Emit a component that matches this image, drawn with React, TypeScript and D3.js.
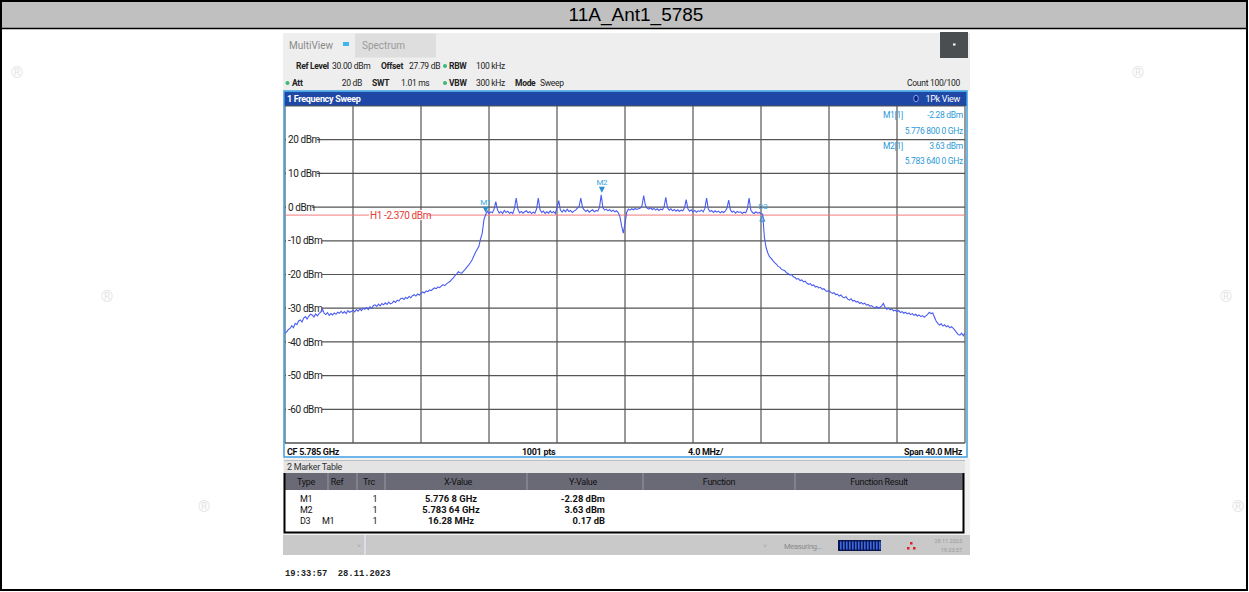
import React from 'react';
import * as d3 from 'd3';

const chartTitle = '11A_Ant1_5785';
const sweepStartMHz = 5765;
const sweepStopMHz = 5805;
const sweepStepMHz = 0.1;
const refLevelDbm = 30;
const bottomLevelDbm = -70;
const yGridLevels = [30, 20, 10, 0, -10, -20, -30, -40, -50, -60, -70];
const yTickLevels = [20, 10, 0, -10, -20, -30, -40, -50, -60];
const xGridMHz = [5765, 5769, 5773, 5777, 5781, 5785, 5789, 5793, 5797, 5801, 5805];
const h1LevelDbm = -2.37;

// trace samples, 0.1 MHz apart from 5765 MHz
const traceDbm = [
  -37.4, -37.0, -36.3, -36.0, -35.2, -35.8, -34.5, -34.9, -33.8, -33.5,
  -34.1, -32.9, -32.5, -33.2, -32.4, -31.8, -32.0, -32.6, -31.7, -32.3,
  -31.6, -31.2, -30.2, -31.5, -31.9, -31.3, -32.1, -31.6, -32.0, -31.4,
  -31.8, -31.2, -31.5, -30.9, -31.5, -31.0, -31.6, -30.7, -31.2, -31.0,
  -30.6, -31.1, -30.4, -30.9, -30.2, -30.7, -30.0, -30.3, -29.8, -30.4,
  -29.6, -30.0, -29.2, -29.0, -29.5, -28.8, -29.3, -28.6, -29.0, -28.4,
  -28.9, -28.2, -28.7, -28.5, -27.9, -28.3, -27.6, -27.9, -27.2, -27.0,
  -27.4, -26.8, -27.1, -26.5, -26.9, -26.3, -26.0, -26.4, -25.8, -26.1,
  -25.6, -25.2, -25.5, -24.9, -25.1, -24.6, -24.8, -24.3, -24.0, -24.2,
  -23.7, -23.9, -23.4, -23.0, -23.3, -22.8, -22.4, -22.1, -21.5, -21.0,
  -20.3, -19.8, -19.2, -19.5, -19.6, -19.0, -18.5, -17.8, -17.2, -16.5,
  -15.7, -14.6, -13.5, -12.6, -11.7, -9.5, -7.8, -3.8, -2.28, -1.2,
  -1.9, -1.4, -1.7, -0.6, 1.6, -0.8, -1.8, -1.3, -1.9, -1.0,
  -1.6, -1.2, -1.8, -1.5, -1.9, -0.4, 2.7, -0.6, -1.7, -1.3,
  -1.8, -1.4, -1.1, -1.7, -1.3, -1.9, -1.5, -1.8, -0.5, 2.7,
  -0.7, -1.6, -1.2, -1.9, -1.4, -1.8, -1.1, -1.7, -1.3, -1.9,
  -0.2, 1.9, -0.9, -1.5, -0.8, -1.4, -0.6, -1.3, -1.0, -1.6,
  -1.2, -0.9, -0.3, 0.2, 2.7, -0.1, -0.8, -1.3, -0.9, -1.5,
  -1.1, -0.8, -1.4, -1.0, -1.2, -0.1, 3.63, -0.2, -0.9, -0.6,
  -1.1, -0.7, -1.3, -0.9, -1.4, -1.1, -1.6, -2.8, -5.6, -7.7,
  -4.9, -1.5, -0.6, -0.9, -0.5, -0.8, -0.4, -0.7, -0.5, -0.3,
  0.4, 3.4, 0.5, -0.3, -0.6, -0.2, -0.7, -0.4, -0.9, -0.5,
  -1.0, -0.6, -0.8, 0.1, 2.9, -0.2, -0.9, -0.5, -1.1, -0.7,
  -1.2, -0.8, -1.3, -0.9, -1.1, -0.2, 2.2, -0.5, -1.2, -0.8,
  -1.4, -1.0, -1.5, -1.1, -1.3, -0.9, -1.4, -0.4, 2.7, -0.6,
  -1.3, -1.0, -1.6, -1.1, -1.5, -1.2, -1.7, -1.3, -1.6, -1.2,
  -0.3, 2.1, -0.8, -1.5, -1.2, -1.8, -1.3, -1.6, -1.4, -1.9,
  -1.5, -1.7, -0.5, 2.7, -0.9, -1.6, -1.9, -1.4, -1.8, -1.6,
  -2.0, -2.11, -9.0, -12.0, -13.6, -14.7, -15.2, -15.9, -16.5, -16.9,
  -17.6, -17.8, -18.4, -18.7, -18.9, -19.5, -19.7, -20.2, -20.0, -20.7,
  -20.9, -21.4, -21.2, -21.8, -21.6, -22.2, -22.0, -22.6, -22.9, -22.7,
  -23.3, -23.1, -23.7, -23.5, -24.0, -23.8, -24.4, -24.2, -24.8, -25.0,
  -24.7, -25.3, -25.6, -25.4, -26.0, -25.8, -26.4, -26.1, -26.7, -26.9,
  -26.6, -27.3, -27.6, -27.2, -27.9, -27.7, -28.2, -28.0, -28.6, -28.3,
  -28.8, -28.5, -29.1, -28.9, -29.4, -29.2, -29.6, -29.9, -29.5, -30.0,
  -29.7, -29.3, -28.6, -29.8, -30.3, -30.0, -30.5, -30.2, -30.8, -30.6,
  -31.0, -30.7, -31.3, -31.0, -31.5, -31.2, -31.7, -31.4, -31.9, -31.6,
  -32.1, -31.8, -32.3, -32.0, -32.5, -32.2, -32.7, -32.3, -31.8, -31.2,
  -31.6, -31.4, -32.6, -33.8, -34.5, -35.0, -34.6, -35.3, -34.9, -35.5,
  -35.2, -35.8, -35.5, -35.9, -36.5, -37.2, -37.8, -38.0, -37.4, -38.2,
  -37.4,
];

const markerNames = ['M1', 'M2', 'D3'];
const markerFreqMHz = [5776.8, 5783.64, 5793.08];
const markerLevelDbm = [-2.28, 3.63, -2.11];

const markerInfo = [
  ['M1[1]', '-2.28 dBm', '5.776 800 0 GHz'],
  ['M2[1]', '3.63 dBm', '5.783 640 0 GHz'],
];

const tableHeaders = ['Type', 'Ref', 'Trc', 'X-Value', 'Y-Value', 'Function', 'Function Result'];
const tableRows = [
  ['M1', '', '1', '5.776 8 GHz', '-2.28 dBm'],
  ['M2', '', '1', '5.783 64 GHz', '3.63 dBm'],
  ['D3', 'M1', '1', '16.28 MHz', '0.17 dB'],
];

const ui = "Roboto, 'Liberation Sans', sans-serif";

export default function App() {
  const W = 1249;
  const H = 592;
  const plot = { left: 285, right: 965, top: 106, bottom: 443 };
  const x = d3.scaleLinear().domain([sweepStartMHz, sweepStopMHz]).range([plot.left, plot.right]);
  const y = d3.scaleLinear().domain([bottomLevelDbm, refLevelDbm]).range([plot.bottom, plot.top]);
  const line = d3
    .line<number>()
    .x((_, i) => x(sweepStartMHz + i * sweepStepMHz))
    .y((d) => y(d));
  const tracePath = line(traceDbm) || '';

  const headerCenters = [306, 337, 369, 458, 583, 719, 879];
  const headerSeps = [328, 357, 385, 527, 643, 795];
  const rowBaselines = [502, 513, 524];

  const progressStripes = d3.range(840, 880, 3);

  return (
    <svg
      width={W}
      height={H}
      style={{ position: 'absolute', left: 0, top: 0, background: '#fff' }}
      xmlns="http://www.w3.org/2000/svg"
    >
      <defs>
        <clipPath id="plotClip">
          <rect x={plot.left} y={plot.top} width={plot.right - plot.left} height={plot.bottom - plot.top} />
        </clipPath>
      </defs>
      <rect x={0} y={0} width={W} height={H} fill="#fff" />

      {/* watermark registered marks */}
      {[[17, 78], [107, 302], [204, 512], [1138, 78], [1226, 302], [1238, 512]].map(([cx, cy], i) => (
        <text key={i} x={cx} y={cy} fontFamily={ui} fontSize={16} fill="#e6e6e6" textAnchor="middle">
          ®
        </text>
      ))}

      {/* title bar */}
      <rect x={1} y={1} width={W - 3} height={27} fill="#c0c0c0" />
      <text x={636} y={21} textAnchor="middle" fontFamily="'Liberation Sans', Arial, sans-serif" fontSize={19} fill="#000">
        {chartTitle}
      </text>
      <line x1={1} y1={28.5} x2={W - 1} y2={28.5} stroke="#000" strokeWidth={1.5} />
      <rect x={1} y={1} width={W - 3} height={H - 3} fill="none" stroke="#000" strokeWidth={2} />

      {/* instrument screen top */}
      <rect x={283} y={33} width={687} height={58} fill="#eeeeee" />
      <text x={289} y={49} fontFamily={ui} fontSize={10} fill="#8a8a8a">MultiView</text>
      <rect x={343} y={42} width={6} height={4} fill="#40b4ec" />
      <rect x={355} y={33.5} width={81} height={24} fill="#dedede" />
      <text x={362} y={49} fontFamily={ui} fontSize={10} fill="#9a9a9a">Spectrum</text>
      <rect x={940} y={32} width={28} height={26} fill="#4a4e51" />
      <rect x={953} y={43.5} width={2.5} height={2} fill="#fff" />

      <g fontFamily={ui} fontSize={8.5} fill="#222" letterSpacing={-0.3}>
        <text x={296} y={69} fontWeight={700}>Ref Level</text>
        <text x={332} y={69}>30.00 dBm</text>
        <text x={381} y={69} fontWeight={700}>Offset</text>
        <text x={409} y={69}>27.79 dB</text>
        <circle cx={445} cy={66} r={2} fill="#3cb878" />
        <text x={449} y={69} fontWeight={700}>RBW</text>
        <text x={476} y={69}>100 kHz</text>

        <circle cx={287.5} cy={83} r={2} fill="#3cb878" />
        <text x={292} y={86} fontWeight={700}>Att</text>
        <text x={362} y={86} textAnchor="end">20 dB</text>
        <text x={372} y={86} fontWeight={700}>SWT</text>
        <text x={401} y={86}>1.01 ms</text>
        <circle cx={445} cy={83} r={2} fill="#3cb878" />
        <text x={449} y={86} fontWeight={700}>VBW</text>
        <text x={476} y={86}>300 kHz</text>
        <text x={515} y={86} fontWeight={700}>Mode</text>
        <text x={540} y={86}>Sweep</text>
        <text x={960} y={86} textAnchor="end">Count 100/100</text>
      </g>

      {/* diagram frame */}
      <rect x={284} y={91} width={683} height={366} fill="#fff" />
      <rect x={284} y={91} width={683} height={15} fill="#1f47a6" />
      <line x1={284} y1={91.5} x2={967} y2={91.5} stroke="#5cc6f4" strokeWidth={1} />
      <text x={287} y={102} fontFamily={ui} fontSize={9} fontWeight={700} fill="#fff" letterSpacing={-0.3}>
        1 Frequency Sweep
      </text>
      <ellipse cx={916} cy={98.5} rx={2.3} ry={3.3} fill="#0b1d86" stroke="#9fc4ff" strokeWidth={0.8} />
      <text x={960} y={102} textAnchor="end" fontFamily={ui} fontSize={9} fill="#fff" letterSpacing={-0.3}>
        1Pk View
      </text>

      {/* grid */}
      <g stroke="#555" strokeWidth={1.2}>
        {yGridLevels.map((v) => (
          <line key={'h' + v} x1={plot.left} x2={plot.right} y1={y(v)} y2={y(v)} />
        ))}
        {xGridMHz.map((f) => (
          <line key={'v' + f} x1={x(f)} x2={x(f)} y1={plot.top} y2={plot.bottom} />
        ))}
      </g>

      {/* y labels */}
      {yTickLevels.map((v) => {
        const label = `${v} dBm`;
        const w = label.length * 5.0 + 1;
        return (
          <g key={'yl' + v}>
            <rect x={286} y={y(v) - 5} width={w} height={10} fill="#fff" />
            <text x={288} y={y(v) + 3.6} fontFamily={ui} fontSize={10} fill="#222" letterSpacing={-0.4}>
              {label}
            </text>
          </g>
        );
      })}

      {/* H1 display line */}
      <line x1={plot.left} x2={plot.right} y1={y(h1LevelDbm)} y2={y(h1LevelDbm)} stroke="#f07a7a" strokeWidth={1} />
      <rect x={369} y={y(h1LevelDbm) - 5} width={59} height={10} fill="#fff" />
      <text x={370} y={y(h1LevelDbm) + 3.6} fontFamily={ui} fontSize={10} fill="#e53935" letterSpacing={-0.4}>
        H1 -2.370 dBm
      </text>

      {/* trace */}
      <path d={tracePath} fill="none" stroke="#4a5cf2" strokeWidth={1.1} clipPath="url(#plotClip)" />

      {/* markers */}
      {markerNames.map((name, i) => {
        const mx = x(markerFreqMHz[i]);
        const my = y(markerLevelDbm[i]);
        if (name.startsWith('D')) {
          return (
            <g key={name}>
              <text x={mx + 0.5} y={my - 5} textAnchor="middle" fontFamily={ui} fontSize={8} fill="#3aa6e0" letterSpacing={-0.3}>
                {name}
              </text>
              <path d={`M${mx - 2.5},${my + 7} L${mx + 2.5},${my + 7} L${mx},${my + 1.5} Z`} fill="none" stroke="#2f8fd0" strokeWidth={1} />
            </g>
          );
        }
        return (
          <g key={name}>
            <text x={mx} y={my - 10} textAnchor="middle" fontFamily={ui} fontSize={8} fill="#3aa6e0" letterSpacing={-0.3}>
              {name}
            </text>
            <path d={`M${mx - 3},${my - 8} L${mx + 3},${my - 8} L${mx},${my - 2} Z`} fill="#2a8fd0" />
          </g>
        );
      })}

      {/* marker readout */}
      <g fontFamily={ui} fontSize={8.5} fill="#2c9ad8" letterSpacing={-0.3}>
        {markerInfo.map((row, i) => (
          <g key={row[0]}>
            <text x={883} y={118 + i * 31}>{row[0]}</text>
            <text x={963} y={118 + i * 31} textAnchor="end">{row[1]}</text>
            <text x={963} y={134 + i * 30} textAnchor="end">{row[2]}</text>
          </g>
        ))}
      </g>

      {/* bottom scale info */}
      <line x1={plot.left} x2={plot.right} y1={plot.bottom} y2={plot.bottom} stroke="#555" strokeWidth={1.2} />
      <g fontFamily={ui} fontSize={9} fontWeight={700} fill="#111" letterSpacing={-0.3}>
        <text x={287} y={455}>CF 5.785 GHz</text>
        <text x={522} y={455}>1001 pts</text>
        <text x={688} y={455}>4.0 MHz/</text>
        <text x={962} y={455} textAnchor="end">Span 40.0 MHz</text>
      </g>
      <rect x={284} y={91} width={683} height={366} fill="none" stroke="#3f9fe0" strokeWidth={1.5} />

      {/* marker table */}
      <rect x={283} y={458} width={687} height={77} fill="#f2f2f2" />
      <rect x={284} y={460} width={681} height={13} fill="#e4e4e4" />
      <line x1={284} x2={965} y1={460.5} y2={460.5} stroke="#bdbdbd" />
      <text x={287} y={470} fontFamily={ui} fontSize={9} fill="#333" letterSpacing={-0.3}>2 Marker Table</text>
      <rect x={284} y={473} width={680} height={17} fill="#6a6a76" />
      {headerSeps.map((sx) => (
        <line key={sx} x1={sx} x2={sx} y1={473} y2={490} stroke="#9898a6" strokeWidth={1} />
      ))}
      <g fontFamily={ui} fontSize={9} fill="#111" letterSpacing={-0.3}>
        {tableHeaders.map((h, i) => (
          <text key={h} x={headerCenters[i]} y={485} textAnchor="middle">{h}</text>
        ))}
      </g>
      <rect x={285} y={490} width={678} height={42} fill="#fff" />
      <g fontFamily={ui} fill="#111">
        {tableRows.map((r, i) => (
          <g key={i}>
            <text x={300} y={rowBaselines[i]} fontSize={9} letterSpacing={-0.3}>{r[0]}</text>
            <text x={322} y={rowBaselines[i]} fontSize={9} letterSpacing={-0.3}>{r[1]}</text>
            <text x={375} y={rowBaselines[i]} fontSize={9} textAnchor="middle">{r[2]}</text>
            <text x={451} y={rowBaselines[i]} fontSize={9.4} fontWeight={700} textAnchor="middle" letterSpacing={0}>{r[3]}</text>
            <text x={605} y={rowBaselines[i]} fontSize={9.4} fontWeight={700} textAnchor="end" letterSpacing={0}>{r[4]}</text>
          </g>
        ))}
      </g>
      <path d="M284.5,473 L284.5,532.5 L963.5,532.5 L963.5,473" fill="none" stroke="#000" strokeWidth={2} />

      {/* status bar */}
      <rect x={283} y={535} width={687} height={20} fill="#c9c9c9" />
      <line x1={365} x2={365} y1={535} y2={555} stroke="#dfe4ee" strokeWidth={1.5} />
      <text x={359} y={548} fontFamily={ui} fontSize={6} fill="#9a9a9a" textAnchor="middle">˅</text>
      <text x={765} y={548} fontFamily={ui} fontSize={6} fill="#9a9a9a" textAnchor="middle">˅</text>
      <text x={784} y={549} fontFamily={ui} fontSize={7.5} fill="#8a8a8a" letterSpacing={-0.3}>Measuring...</text>
      <rect x={838} y={540} width={43} height={11} fill="#0a1650" />
      {progressStripes.map((sx) => (
        <rect key={sx} x={sx} y={541.5} width={1.6} height={8} fill="#3d6ae4" />
      ))}
      <g fill="#e02020">
        <rect x={910} y={542} width={2.5} height={2.5} />
        <rect x={907} y={547} width={2.5} height={2.5} />
        <rect x={913} y={547} width={2.5} height={2.5} />
      </g>
      <text x={962} y={543} fontFamily={ui} fontSize={5.5} fill="#9a9a9a" textAnchor="end">28.11.2023</text>
      <text x={962} y={552} fontFamily={ui} fontSize={5.5} fill="#9a9a9a" textAnchor="end">19:33:57</text>

      {/* timestamp */}
      <text x={285} y={576} fontFamily="'Liberation Mono', 'DejaVu Sans Mono', monospace" fontSize={8.8} fontWeight={700} fill="#222" xmlSpace="preserve">
        19:33:57  28.11.2023
      </text>
    </svg>
  );
}
